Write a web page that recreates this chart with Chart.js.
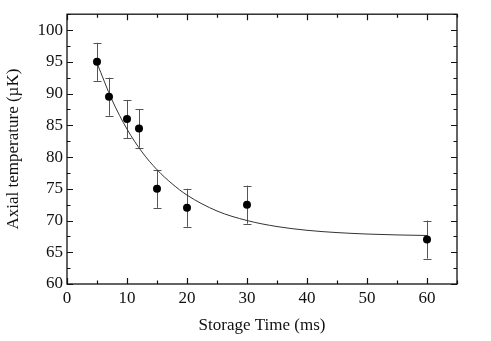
<!DOCTYPE html>
<html>
<head>
<meta charset="utf-8">
<script src="https://cdn.jsdelivr.net/npm/chart.js@4/dist/chart.umd.min.js"></script>
<style>
  html, body { margin: 0; padding: 0; background: #fff; }
  #wrap { width: 491px; height: 341px; }
</style>
</head>
<body>
<div id="wrap"><canvas id="chart"></canvas></div>
<script>
// measured points
const storageTime = [5, 7, 10, 12, 15, 20, 30, 60];
const temperature = [95, 89.5, 86, 84.5, 75, 72, 72.5, 67];
const tempError = [3, 3, 3, 3, 3, 3, 3, 3];

// fitted curve
const fitTime = [5, 7.5, 10, 12.5, 15, 17.5, 20, 25, 30, 35, 40, 45, 50, 55, 60];
const fitTemp = [94.8, 89.0, 84.4, 80.8, 78.0, 75.8, 74.0, 71.5, 70.0, 69.05, 68.46, 68.1, 67.87, 67.73, 67.64];

const xTicks = [0, 10, 20, 30, 40, 50, 60];
const yTicks = [60, 65, 70, 75, 80, 85, 90, 95, 100];

const serif = "'Liberation Serif', 'DejaVu Serif', serif";
Chart.defaults.font.family = serif;
Chart.defaults.font.size = 17;
Chart.defaults.color = '#111';

// error bars drawn under the markers
const errorBars = {
    id: 'errorBars',
    beforeDatasetsDraw(chart) {
        const ctx = chart.ctx;
        const xs = chart.scales.x, ys = chart.scales.y;
        ctx.save();
        ctx.strokeStyle = '#555';
        ctx.lineWidth = 1;
        storageTime.forEach((t, i) => {
            const px = Math.round(xs.getPixelForValue(t)) + 0.5;
            const top = ys.getPixelForValue(temperature[i] + tempError[i]);
            const bot = ys.getPixelForValue(temperature[i] - tempError[i]);
            ctx.beginPath();
            ctx.moveTo(px, top); ctx.lineTo(px, bot);
            ctx.moveTo(px - 4, Math.round(top) + 0.5); ctx.lineTo(px + 4, Math.round(top) + 0.5);
            ctx.moveTo(px - 4, Math.round(bot) + 0.5); ctx.lineTo(px + 4, Math.round(bot) + 0.5);
            ctx.stroke();
        });
        ctx.restore();
    }
};

// box frame with inward major/minor ticks on all four sides
const frameTicks = {
    id: 'frameTicks',
    afterDraw(chart) {
        const ctx = chart.ctx;
        const a = chart.chartArea;
        const xs = chart.scales.x, ys = chart.scales.y;
        ctx.save();
        ctx.strokeStyle = '#111';
        ctx.lineWidth = 1.3;
        ctx.strokeRect(a.left, a.top, a.right - a.left, a.bottom - a.top);
        ctx.lineWidth = 1.2;
        ctx.beginPath();
        for (let v = xs.min; v <= xs.max; v += 5) {
            const len = v % 10 === 0 ? 6 : 3.5;
            const px = Math.round(xs.getPixelForValue(v)) + 0.5;
            ctx.moveTo(px, a.bottom); ctx.lineTo(px, a.bottom - len);
            ctx.moveTo(px, a.top); ctx.lineTo(px, a.top + len);
        }
        for (let v = ys.min; v <= ys.max; v += 2.5) {
            const len = v % 5 === 0 ? 6 : 3.5;
            const py = Math.round(ys.getPixelForValue(v)) + 0.5;
            ctx.moveTo(a.left, py); ctx.lineTo(a.left + len, py);
            ctx.moveTo(a.right, py); ctx.lineTo(a.right - len, py);
        }
        ctx.stroke();
        ctx.restore();
    }
};

new Chart(document.getElementById('chart'), {
    type: 'scatter',
    data: {
        datasets: [
            {
                label: 'Data',
                data: storageTime.map((t, i) => ({ x: t, y: temperature[i] })),
                pointRadius: 4,
                pointBackgroundColor: '#000',
                pointBorderColor: '#000',
                pointBorderWidth: 0,
                order: 1
            },
            {
                label: 'Fit',
                type: 'line',
                data: fitTime.map((t, i) => ({ x: t, y: fitTemp[i] })),
                borderColor: '#333',
                borderWidth: 1,
                pointRadius: 0,
                fill: false,
                cubicInterpolationMode: 'monotone',
                order: 2
            }
        ]
    },
    options: {
        responsive: true,
        maintainAspectRatio: false,
        animation: false,
        layout: { padding: { top: 14, right: 34, left: 0, bottom: 0 } },
        plugins: {
            legend: { display: false },
            tooltip: { enabled: false }
        },
        scales: {
            x: {
                type: 'linear',
                min: 0,
                max: 65,
                afterBuildTicks: s => { s.ticks = xTicks.map(v => ({ value: v })); },
                afterFit: s => { s.height = 57; },
                grid: { display: false, drawTicks: false },
                border: { display: false },
                ticks: {
                    padding: 4,
                    maxRotation: 0,
                    color: '#111',
                    font: { family: serif, size: 17 }
                },
                title: {
                    display: true,
                    text: 'Storage Time (ms)',
                    color: '#111',
                    font: { family: serif, size: 17 },
                    padding: { top: 0, bottom: 5 }
                }
            },
            y: {
                type: 'linear',
                min: 60,
                max: 102.5,
                afterBuildTicks: s => { s.ticks = yTicks.map(v => ({ value: v })); },
                afterFit: s => { s.width = 67; },
                grid: { display: false, drawTicks: false },
                border: { display: false },
                ticks: {
                    padding: 4,
                    color: '#111',
                    font: { family: serif, size: 17 }
                },
                title: {
                    display: true,
                    text: 'Axial temperature (\u00b5K)',
                    color: '#111',
                    font: { family: serif, size: 17 },
                    padding: { top: 3, bottom: 0 }
                }
            }
        }
    },
    plugins: [errorBars, frameTicks]
});
</script>
</body>
</html>
